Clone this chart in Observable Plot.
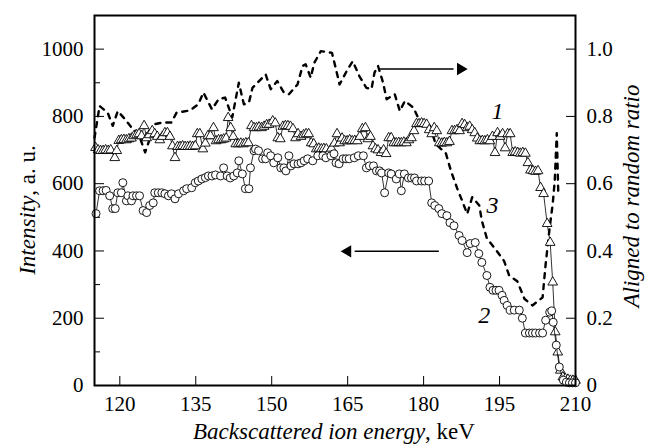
<!DOCTYPE html>
<html><head><meta charset="utf-8">
<script src="https://cdn.jsdelivr.net/npm/d3@7"></script>
<script src="https://cdn.jsdelivr.net/npm/@observablehq/plot@0.6"></script>
<style>body{margin:0;background:#fff}</style>
</head><body><div id="chart"></div>
<script>
// Series 1 (triangles): energy (keV) and intensity
const e1 = [115.2,115.7,116.2,116.7,117.2,117.7,118.2,119.0,119.4,119.8,120.3,120.8,121.3,121.8,122.3,122.8,123.3,123.8,124.3,124.8,125.3,125.8,126.4,126.9,127.4,127.9,128.4,128.9,129.4,129.9,130.4,130.9,131.4,131.9,132.4,132.9,133.4,133.9,134.4,134.9,135.3,135.8,136.4,136.9,137.4,137.9,138.5,139.0,139.5,140.0,140.5,141.0,141.4,141.9,142.4,142.9,143.4,143.9,144.4,144.9,145.4,146.0,146.5,147.0,147.5,148.0,148.5,149.0,149.5,150.2,150.7,151.2,151.7,152.2,152.7,153.2,153.7,154.2,154.7,155.2,155.8,156.3,156.8,157.3,157.8,158.3,158.8,159.3,159.8,160.3,160.8,161.3,161.8,162.4,162.9,163.4,163.9,164.4,164.9,165.4,165.9,166.4,166.9,167.4,167.9,168.5,169.0,169.5,170.0,170.5,171.0,171.6,172.1,172.6,173.1,173.6,174.1,174.6,175.1,175.6,176.1,176.6,177.1,177.6,178.1,178.6,179.1,179.6,180.1,180.6,181.1,181.6,182.1,182.6,183.1,183.6,184.1,184.6,185.1,185.6,186.1,186.6,187.1,187.6,188.1,188.6,189.1,189.6,190.1,190.6,191.1,191.6,192.1,192.6,193.1,193.6,194.1,194.6,195.1,195.6,196.1,196.6,197.1,197.6,198.1,198.6,199.1,199.6,200.1,200.6,201.1,201.6,202.1,202.6,203.1,203.7,204.4,205.0,205.5,206.0,206.5,207.0,207.5,208.0,208.5,209.0,209.5,210.0];
const i1 = [707,700,698,698,700,698,700,677,698,728,730,731,730,733,735,742,745,748,742,772,736,745,757,748,740,730,740,751,751,740,712,677,710,710,712,710,710,711,710,712,748,748,703,720,742,742,766,727,730,730,732,735,796,766,740,718,718,720,718,721,721,772,766,766,768,766,770,775,776,786,780,736,733,770,772,772,770,763,736,748,740,745,748,748,721,718,703,705,703,704,703,692,705,720,748,721,735,727,727,730,727,728,727,740,763,766,733,740,712,703,700,692,700,689,736,736,721,721,722,721,723,721,730,736,757,778,778,780,778,776,760,748,766,757,721,720,722,721,725,757,757,760,757,778,775,766,770,760,751,735,727,728,727,730,727,740,692,751,740,748,706,748,748,692,694,692,690,692,690,662,640,638,636,638,588,570,481,425,307,159,99,45,25,20,18,15,15,15];

// Series 2 (circles): energy (keV) and intensity
const e2 = [115.3,116.0,116.7,117.3,118.0,118.6,119.1,119.6,120.3,120.6,121.3,121.6,122.3,122.6,123.3,123.9,124.6,125.3,125.9,126.6,126.9,127.6,128.3,128.9,129.6,130.2,130.9,131.6,132.6,133.2,134.2,134.9,135.5,136.2,136.9,137.5,138.2,138.9,139.9,140.5,141.2,141.8,142.5,143.2,143.5,144.2,144.8,145.5,145.8,146.5,146.8,147.4,148.2,148.8,149.2,149.8,150.4,151.2,151.8,152.4,152.8,153.4,153.8,154.4,155.2,155.8,156.4,157.1,158.1,159.1,160.1,160.7,161.7,162.3,162.7,163.3,164.1,164.7,165.3,166.3,167.1,168.1,168.7,169.3,170.1,170.7,171.3,171.7,172.3,173.1,173.6,174.6,175.2,175.6,176.2,177.0,177.6,178.2,178.6,179.6,180.2,181.0,181.6,182.2,183.0,183.6,184.6,185.2,186.0,187.0,187.6,188.6,189.2,190.2,190.9,191.5,192.5,193.1,193.7,194.3,194.9,195.5,195.9,196.5,197.1,197.9,198.9,199.5,200.1,200.9,201.5,202.1,202.9,203.5,204.1,204.9,205.3,205.6,206.2,206.8,207.6,208.2,208.8,209.4,210.0];
const i2 = [511,579,579,580,564,526,526,573,573,603,549,564,549,564,564,564,520,514,535,543,573,573,573,570,564,570,555,570,579,585,588,603,608,614,618,623,623,626,623,647,623,617,623,632,668,629,585,585,647,698,703,698,674,674,692,683,662,677,647,647,638,683,653,659,659,662,668,674,668,683,683,677,683,689,662,659,674,674,674,677,683,683,647,653,653,638,638,632,573,632,629,614,629,579,629,617,617,617,608,608,608,608,543,535,526,511,505,484,475,446,431,395,422,425,392,366,327,292,283,283,283,268,253,238,224,224,224,200,156,156,156,156,156,156,194,218,222,188,120,55,16,10,8,8,8];

// Series 3 (dashed): energy (keV) and aligned-to-random ratio
const e3 = [115.0,116.0,117.6,118.6,119.6,121.0,122.6,123.6,125.0,126.9,128.6,130.2,131.2,133.9,135.5,136.5,138.2,139.5,140.8,142.2,143.5,144.5,145.5,146.2,147.5,148.8,149.8,151.1,152.4,153.4,155.1,156.1,156.7,157.7,158.4,159.7,161.9,162.7,163.4,165.0,166.0,167.3,168.7,169.7,170.3,171.0,172.0,172.7,174.3,175.3,176.3,178.0,179.4,181.2,182.4,184.4,185.4,186.8,187.6,188.6,189.6,191.0,191.5,192.5,194.1,195.9,196.9,198.5,199.9,201.5,203.5,204.1,204.9,205.5,205.9,206.3,206.6];
const r3 = [0.736,0.831,0.811,0.772,0.816,0.792,0.762,0.752,0.693,0.777,0.782,0.782,0.811,0.818,0.836,0.871,0.821,0.851,0.856,0.797,0.900,0.836,0.841,0.885,0.905,0.925,0.881,0.905,0.871,0.866,0.895,0.950,0.955,0.915,0.959,0.994,0.989,0.940,0.895,0.940,0.964,0.920,0.885,0.881,0.930,0.950,0.900,0.851,0.866,0.816,0.846,0.826,0.780,0.772,0.718,0.690,0.638,0.579,0.550,0.510,0.560,0.535,0.490,0.437,0.407,0.370,0.327,0.310,0.258,0.238,0.262,0.360,0.470,0.540,0.608,0.750,0.570];

// Axis ticks and labels
const xTicks = [120,135,150,165,180,195,210];
const yTicks = [0,200,400,600,800,1000];
const yMinorTicks = [100,300,500,700,900];
const ratioLabels = ["0","0.2","0.4","0.6","0.8","1.0"];

// Annotations (curve numbers and arrows), in data units
const curveLabels = ["1","2","3"];
const curveLabelE = [194.6,192.0,193.6];
const curveLabelI = [816,209,535];
const arrowE1 = [171.5,182.9];
const arrowE2 = [187.3,165.0];
const arrowI = [941,399];

const s1 = e1.map((e,k)=>({e, v:i1[k]}));
const s2 = e2.map((e,k)=>({e, v:i2[k]}));
const s3 = e3.map((e,k)=>({e, v:r3[k]*1000}));
const labs = curveLabels.map((t,k)=>({t, e:curveLabelE[k], v:curveLabelI[k]}));
const arrows = arrowE1.map((e,k)=>({x1:e, x2:arrowE2[k], y:arrowI[k], rot: arrowE2[k] > e ? 90 : -90}));
const arrowShafts = arrows.flatMap((a,k)=>[{x:a.x1,y:a.y,k},{x:a.x2 - (a.x2>a.x1?1.5:-1.5),y:a.y,k}]);

const serif = "Times New Roman, serif";
const svg = Plot.plot({
  width: 649, height: 448,
  marginLeft: 94, marginRight: 74, marginTop: 15, marginBottom: 63,
  style: {fontFamily: serif, fontSize: "20px", background: "white", color: "black"},
  x: {domain: [115, 210]},
  y: {domain: [0, 1100]},
  marks: [
    Plot.axisX({ticks: xTicks, tickSize: -9, tickPadding: 20, label: null, fontSize: 21, fontFamily: serif, tickFormat: (d) => String(d)}),
    Plot.axisY({ticks: yTicks, tickSize: -10, tickPadding: 21, label: null, fontSize: 21, fontFamily: serif, tickFormat: (d) => String(d)}),
    Plot.axisY({ticks: yMinorTicks, tickSize: -6, tickFormat: () => "", label: null}),
    Plot.axisY({anchor: "right", ticks: yTicks, tickSize: -10, tickPadding: 21, label: null, fontSize: 21, fontFamily: serif,
      tickFormat: (d) => ratioLabels[yTicks.indexOf(d)]}),
    Plot.line(s3, {x: "e", y: "v", stroke: "black", strokeWidth: 2.4, strokeDasharray: "5,6"}),
    Plot.line(s1, {x: "e", y: "v", stroke: "black", strokeWidth: 0.8}),
    Plot.dot(s1, {x: "e", y: "v", symbol: "triangle", r: 3.6, fill: "white", stroke: "black", strokeWidth: 0.9}),
    Plot.line(s2, {x: "e", y: "v", stroke: "black", strokeWidth: 0.8}),
    Plot.dot(s2, {x: "e", y: "v", symbol: "circle", r: 4, fill: "white", stroke: "black", strokeWidth: 0.9}),
    Plot.line(arrowShafts, {x: "x", y: "y", z: "k", stroke: "black", strokeWidth: 1.6}),
    Plot.dot(arrows, {x: "x2", y: "y", symbol: "triangle", rotate: "rot", r: 3.6, fill: "black", stroke: "black"}),
    Plot.text(labs, {x: "e", y: "v", text: "t", fontSize: 24, fontStyle: "italic", fontFamily: serif}),
    Plot.frame({stroke: "black", strokeWidth: 2})
  ]
});
const root = d3.select(svg);
const t1 = root.append("text").attr("transform", "translate(30,210) rotate(-90)")
  .attr("text-anchor", "middle").attr("dominant-baseline", "middle")
  .attr("font-size", 23).attr("fill", "black").attr("font-family", serif);
t1.append("tspan").attr("font-style", "italic").text("Intensity");
t1.append("tspan").text(", a. u.");
const t2 = root.append("text").attr("x", 334).attr("y", 439)
  .attr("text-anchor", "middle").attr("font-size", 23).attr("fill", "black").attr("font-family", serif);
t2.append("tspan").attr("font-style", "italic").text("Backscattered ion energy");
t2.append("tspan").text(", keV");
root.append("text").attr("transform", "translate(634,196) rotate(-90)")
  .attr("text-anchor", "middle").attr("dominant-baseline", "middle")
  .attr("font-size", 23).attr("font-style", "italic").attr("fill", "black").attr("font-family", serif)
  .text("Aligned to random ratio");
document.getElementById("chart").appendChild(svg);
</script></body></html>
